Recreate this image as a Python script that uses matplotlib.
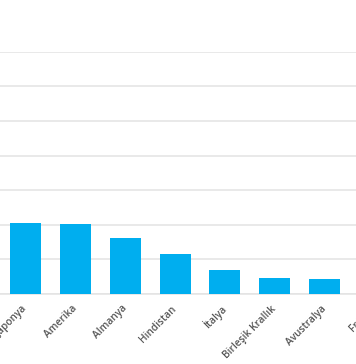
import matplotlib
matplotlib.use("Agg")
import matplotlib.pyplot as plt

categories = ["Japonya", "Amerika", "Almanya", "Hindistan", "İtalya",
              "Birleşik Krallık", "Avustralya", "Fransa"]
values = [206, 201, 163, 116, 68, 45, 43, 40]
y_ticks = [0, 100, 200, 300, 400, 500, 600, 700]

W, H = 356, 364
fig = plt.figure(figsize=(W / 100, H / 100), dpi=100)

# axes geometry in pixels (axes is wider than the visible crop)
spacing = 49.8
first_center = 25.7
x_lo, x_hi = -1.5, 8.5
left_px = first_center + x_lo * spacing
width_px = (x_hi - x_lo) * spacing
base_px = 294.0
grid_px = 34.6
top_px = base_px - 7 * grid_px

ax = fig.add_axes([left_px / W, (H - base_px) / H, width_px / W, (base_px - top_px) / H])
x = list(range(len(categories)))
ax.bar(x, values, width=0.62, color="#00aeef", zorder=3)
ax.set_xlim(x_lo, x_hi)
ax.set_ylim(0, 700)
ax.set_yticks(y_ticks)
ax.yaxis.grid(True, color="#e3e3e3", linewidth=1.1, zorder=0)
ax.tick_params(axis="y", length=0, labelleft=False)
ax.set_xticks(x)
ax.set_xticklabels(categories, rotation=45, ha="right", va="center",
                   rotation_mode="anchor",
                   fontsize=7.3, color="#555555", family=["Open Sans", "DejaVu Sans"],
                   fontweight="semibold")
ax.tick_params(axis="x", length=0, pad=9.5)
for s in ["top", "right", "left"]:
    ax.spines[s].set_visible(False)
ax.spines["bottom"].set_color("#e3e3e3")
ax.spines["bottom"].set_linewidth(1.1)

fig.savefig("out.png", dpi=100)
